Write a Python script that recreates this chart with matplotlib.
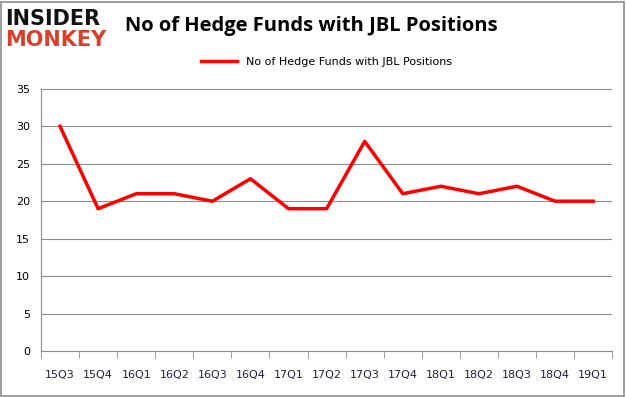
import matplotlib.pyplot as plt
from matplotlib.patches import Rectangle

quarters = ['15Q3', '15Q4', '16Q1', '16Q2', '16Q3', '16Q4', '17Q1', '17Q2',
            '17Q3', '17Q4', '18Q1', '18Q2', '18Q3', '18Q4', '19Q1']
funds = [30, 19, 21, 21, 20, 23, 19, 19, 28, 21, 22, 21, 22, 20, 20]
y_ticks = [0, 5, 10, 15, 20, 25, 30, 35]

fig = plt.figure(figsize=(6.26, 3.97), dpi=100)
fig.patches.append(Rectangle((0.002, 0.003), 0.995, 0.993, transform=fig.transFigure,
                             fill=False, edgecolor='#8c8c8c', linewidth=1.2))

ax = fig.add_axes([0.0655, 0.116, 0.9125, 0.66])
x = list(range(len(quarters)))
ax.plot(x, funds, color='#ff0000', linewidth=2.5, label='No of Hedge Funds with JBL Positions')

ax.set_xlim(-0.5, len(quarters) - 0.5)
ax.set_ylim(0, 35)
ax.set_yticks(y_ticks)
ax.set_xticks(x)
ax.set_xticklabels(quarters)
ax.set_xticks([i - 0.5 for i in range(len(quarters) + 1)], minor=True)
ax.tick_params(axis='x', which='major', length=0, pad=14, labelsize=8, labelcolor='#1f1f3f')
ax.tick_params(axis='x', which='minor', length=5, color='#8c8c8c', direction='out')
ax.tick_params(axis='y', length=0, pad=8, labelsize=8)
ax.grid(axis='y', color='#8c8c8c', linewidth=0.8)
ax.set_axisbelow(True)
for s in ['top', 'right']:
    ax.spines[s].set_visible(False)
ax.spines['left'].set_color('#8c8c8c')
ax.spines['bottom'].set_color('#8c8c8c')

fig.text(0.497, 0.935, 'No of Hedge Funds with JBL Positions', ha='center', va='center',
         fontsize=14.5, fontweight='bold', family='Open Sans')
ax.legend(loc='center', bbox_to_anchor=(0.5, 1.103), frameon=False, fontsize=8,
          handlelength=3.2)

fig.text(0.008, 0.952, 'INSIDER', ha='left', va='center', fontsize=15,
         fontweight='heavy', color='#111111')
fig.text(0.008, 0.9, 'MONKEY', ha='left', va='center', fontsize=15,
         fontweight='heavy', color='#d9402b')

fig.savefig('out.png', dpi=100)
